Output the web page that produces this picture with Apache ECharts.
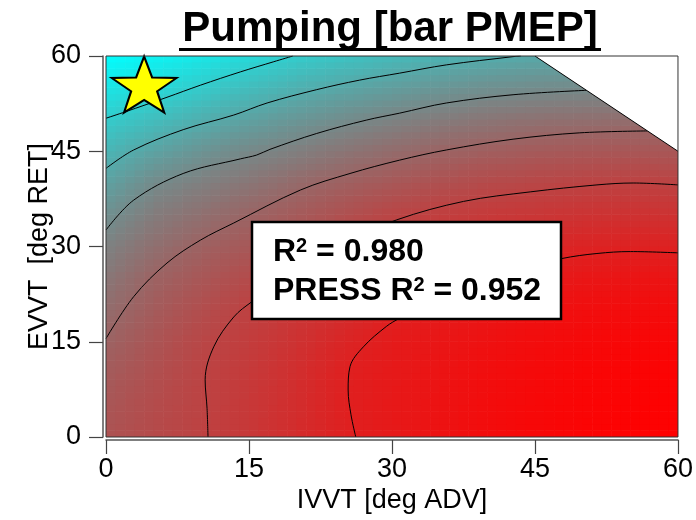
<!DOCTYPE html>
<html>
<head>
<meta charset="utf-8">
<script src="https://cdn.jsdelivr.net/npm/echarts@6/dist/echarts.min.js"></script>
<style>html,body{margin:0;padding:0;background:#fff;}#c{width:696px;height:520px;}</style>
</head>
<body>
<div id="c"></div>
<script>
// ---- data ----
const ivvt = [0, 5, 10, 15, 20, 25, 30, 35, 40, 45, 50, 55, 60];
const evvt = [0, 5, 10, 15, 20, 25, 30, 35, 40, 45, 50, 55, 60];
// pumping response in contour-level units; pumpLevel[j][i] is at (ivvt[i], evvt[j])
const pumpLevel = [
  [4.50, 4.75, 4.97, 5.28, 5.60, 5.94, 6.15, 6.35, 6.52, 6.65, 6.75, 6.82, 6.85],
  [4.40, 4.70, 4.96, 5.27, 5.59, 5.96, 6.17, 6.35, 6.52, 6.65, 6.74, 6.80, 6.83],
  [4.25, 4.60, 4.93, 5.22, 5.55, 5.95, 6.15, 6.32, 6.48, 6.60, 6.70, 6.76, 6.79],
  [4.03, 4.45, 4.85, 5.13, 5.45, 5.82, 6.10, 6.25, 6.40, 6.52, 6.62, 6.68, 6.70],
  [3.75, 4.25, 4.65, 5.02, 5.30, 5.57, 5.93, 6.10, 6.25, 6.38, 6.48, 6.54, 6.55],
  [3.45, 4.03, 4.38, 4.72, 5.08, 5.30, 5.56, 5.78, 5.98, 6.12, 6.24, 6.30, 6.30],
  [3.15, 3.67, 4.08, 4.35, 4.69, 5.03, 5.25, 5.43, 5.60, 5.74, 5.87, 5.93, 5.91],
  [2.75, 3.31, 3.66, 3.99, 4.29, 4.58, 4.88, 5.08, 5.22, 5.31, 5.41, 5.46, 5.44],
  [2.24, 2.89, 3.22, 3.48, 3.83, 4.11, 4.35, 4.57, 4.74, 4.85, 4.94, 5.00, 4.96],
  [1.67, 2.21, 2.64, 2.97, 3.23, 3.51, 3.77, 4.00, 4.15, 4.28, 4.35, 4.39, 4.38],
  [1.03, 1.44, 1.87, 2.24, 2.56, 2.85, 3.11, 3.32, 3.49, 3.62, 3.68, 3.72, 3.72],
  [0.30, 0.63, 1.06, 1.46, 1.82, 2.10, 2.35, 2.57, 2.75, 2.85, 2.90, 2.92, 2.92],
  [-0.40, -0.10, 0.25, 0.65, 1.03, 1.28, 1.55, 1.75, 1.90, 2.05, 2.10, 2.10, 2.10]
];
const contour1 = [[0,50.2],[2,51.2],[6.4,53.5],[9.9,55.4],[14.1,57.5],[17.6,59.1],[19.6,60]];
const contour2 = [[0,42.3],[2.9,45.2],[8.1,48.4],[13.4,50.7],[16.9,52.6],[22.1,54.7],[26.6,56.2],[30.8,57.3],[35.7,58.6],[42.7,59.9],[43.5,60]];
const contour3 = [[0,32.6],[2.9,37.3],[8.1,41.5],[14.1,43.8],[15.8,44.4],[17.2,45.3],[22.1,47.8],[27.3,49.9],[30.8,51.0],[35.7,52.6],[42.7,53.9],[50.4,54.6]];
const contour4 = [[0,15.5],[2.9,22.1],[6.4,27.4],[9.9,31.0],[13.4,33.7],[20.4,38.9],[25.6,41.5],[30.8,43.6],[35.7,45.2],[42.7,46.9],[49.7,47.9],[56.8,48.2]];
const contour5 = [[10.7,0],[10.6,4.5],[10.4,9.0],[11.3,14.2],[13.4,18.9],[15.3,21.3],[20,26.2],[25,30.6],[30.5,34.2],[37.5,37.1],[44.5,38.6],[51.5,39.7],[55.3,40.0],[60,39.7]];
const contour6 = [[26.2,0],[25.7,3.5],[25.4,7.4],[25.6,11.1],[27.0,14.2],[29.4,17.4],[30.8,18.7],[35,21.9],[40,24.8],[44,26.6],[47.8,28.1],[51.5,28.9],[55.0,29.2],[60,29.0]];
const limitLine = [[45,60],[60,45]];
const starPoint = [[4, 55.5]];
const axisTicks = [0, 15, 30, 45, 60];
const statLine1 = ['R', '2', ' = 0.980'];
const statLine2 = ['PRESS R', '2', ' = 0.952'];
const titleText = 'Pumping [bar PMEP]';

// ---- colour scale: red (high level) -> cyan (low level) ----
const LEVEL_RED = 6.88, LEVEL_CYAN = -0.45;
function colorOf(v) {
  let t = (LEVEL_RED - v) / (LEVEL_RED - LEVEL_CYAN);
  t = Math.max(0, Math.min(1, t));
  const r = Math.round(255 * (1 - t)), g = Math.round(255 * t);
  return 'rgb(' + r + ',' + g + ',' + g + ')';
}

const cells = [];
for (let j = 0; j < evvt.length - 1; j++) {
  for (let i = 0; i < ivvt.length - 1; i++) {
    cells.push([ivvt[i], evvt[j], ivvt[i + 1], evvt[j + 1],
      pumpLevel[j][i], pumpLevel[j][i + 1], pumpLevel[j + 1][i], pumpLevel[j + 1][i + 1]]);
  }
}

function renderCell(params, api) {
  const x0 = api.value(0), y0 = api.value(1), x1 = api.value(2), y1 = api.value(3);
  const a = api.value(4), b = api.value(5), c = api.value(6), d = api.value(7);
  const pBL = api.coord([x0, y0]), pTR = api.coord([x1, y1]);
  const W = pTR[0] - pBL[0], H = pBL[1] - pTR[1];
  const N = 5, sw = W / N, sh = H / N;
  const children = [];
  for (let ix = 0; ix < N; ix++) {
    for (let iy = 0; iy < N; iy++) {
      const u = (ix + 0.5) / N, w = (iy + 0.5) / N;
      const v = a * (1 - u) * (1 - w) + b * u * (1 - w) + c * (1 - u) * w + d * u * w;
      children.push({
        type: 'rect',
        shape: { x: pBL[0] + ix * sw, y: pBL[1] - (iy + 1) * sh - 0.5, width: sw + 0.6, height: sh + 0.6 },
        style: { fill: colorOf(v) }
      });
    }
  }
  return { type: 'group', children: children };
}

const FONT = '"Liberation Sans", Arial, Helvetica, sans-serif';
const STAR = 'path://M0,-100L23.51,-32.36L95.11,-30.9L38.04,12.36L58.78,80.9L0,40L-58.78,80.9L-38.04,12.36L-95.11,-30.9L-23.51,-32.36Z';

function contourSeries(d) {
  return {
    type: 'line', data: d, smooth: 0.35, symbol: 'none', z: 3, silent: true,
    lineStyle: { color: '#000', width: 1 }
  };
}

const axisCommon = {
  type: 'value', min: 0, max: 60, interval: 15, offset: 3,
  nameLocation: 'middle', nameMoveOverlap: false,
  nameTextStyle: { fontFamily: FONT, fontSize: 27, color: '#000' },
  axisLine: { show: true, onZero: false, lineStyle: { color: '#555', width: 1.5 } },
  axisTick: { show: true, length: 14, lineStyle: { color: '#444', width: 1.2 } },
  axisLabel: { fontFamily: FONT, fontSize: 27, color: '#000',
    formatter: function (v) { return axisTicks.indexOf(v) >= 0 ? String(v) : ''; } },
  splitLine: { show: false }
};

const richStat = {
  b: { fontFamily: FONT, fontWeight: 'bold', fontSize: 32, color: '#000' },
  s: { fontFamily: FONT, fontWeight: 'bold', fontSize: 20, color: '#000', verticalAlign: 'top' }
};
function richLine(p) { return '{b|' + p[0] + '}{s|' + p[1] + '}{b|' + p[2] + '}'; }

const chart = echarts.init(document.getElementById('c'), null, { renderer: 'canvas' });
chart.setOption({
  animation: false,
  backgroundColor: '#fff',
  grid: { left: 106, right: 18, top: 56, bottom: 83, show: true, borderColor: '#333', borderWidth: 1, backgroundColor: 'transparent', z: 10 },
  xAxis: Object.assign({}, axisCommon, {
    name: 'IVVT [deg ADV]', nameGap: 47,
    axisLabel: Object.assign({}, axisCommon.axisLabel, { margin: 16 })
  }),
  yAxis: Object.assign({}, axisCommon, {
    name: 'EVVT  [deg RET]', nameGap: 50,
    axisLabel: Object.assign({}, axisCommon.axisLabel, { margin: 22 })
  }),
  series: [
    { type: 'custom', data: cells, renderItem: renderCell, z: 1, silent: true, clip: true },
    contourSeries(contour1), contourSeries(contour2), contourSeries(contour3),
    contourSeries(contour4), contourSeries(contour5), contourSeries(contour6),
    {
      type: 'line', data: limitLine, symbol: 'none', z: 4, silent: true,
      lineStyle: { color: '#000', width: 1 },
      areaStyle: { origin: 'end', color: '#fff', opacity: 1 }
    },
    {
      type: 'scatter', data: starPoint, symbol: STAR, symbolSize: [65, 56], z: 6, silent: true,
      itemStyle: { color: '#ffff00', borderColor: '#000', borderWidth: 2, opacity: 1 }
    }
  ],
  graphic: [
    { type: 'text', x: 390, y: 29, z: 20,
      style: { text: titleText, font: 'bold 42px ' + FONT, fill: '#000', align: 'center', verticalAlign: 'middle' } },
    { type: 'rect', z: 20, shape: { x: 179, y: 48, width: 422, height: 3 }, style: { fill: '#000' } },
    { type: 'rect', z: 20, shape: { x: 252, y: 222, width: 309, height: 97 },
      style: { fill: '#fff', stroke: '#000', lineWidth: 2.5 } },
    { type: 'text', x: 273, y: 252, z: 21,
      style: { text: richLine(statLine1), rich: richStat, align: 'left', verticalAlign: 'middle' } },
    { type: 'text', x: 273, y: 291, z: 21,
      style: { text: richLine(statLine2), rich: richStat, align: 'left', verticalAlign: 'middle' } }
  ]
});
</script>
</body>
</html>
